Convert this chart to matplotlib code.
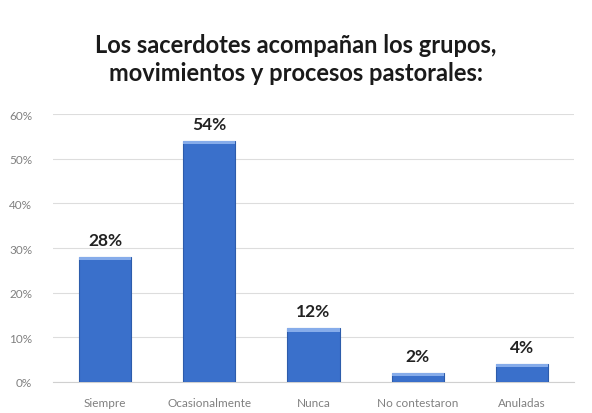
import numpy as np
import matplotlib.pyplot as plt
from matplotlib.ticker import PercentFormatter

categories = ["Siempre", "Ocasionalmente", "Nunca", "No contestaron", "Anuladas"]
values = [28, 54, 12, 2, 4]
yticks = [0, 10, 20, 30, 40, 50, 60]

plt.rcParams["font.family"] = ["Lato", "DejaVu Sans"]

fig = plt.figure(figsize=(5.92, 4.14), dpi=100)
ax = fig.add_axes([0.0895, 0.0749, 0.8801, 0.6471])

x = np.arange(len(categories))
bars = ax.bar(x, values, width=0.5, color="#3a70cb", edgecolor="#2d5cab",
              linewidth=0.8, zorder=3)

# lighter band on top of each bar, roughly like the bevel in the original
for b in bars:
    ax.bar(b.get_x() + b.get_width() / 2, 0.7, bottom=b.get_height() - 0.7,
           width=b.get_width(), color="#86acea", linewidth=0, zorder=4)

for xi, v in zip(x, values):
    ax.text(xi, v + 2.0, f"{v}%", ha="center", va="bottom",
            fontsize=12.5, fontweight="bold", color="#222222")

ax.set_xlim(-0.5, len(categories) - 0.5)
ax.set_ylim(0, 60)
ax.set_yticks(yticks)
ax.yaxis.set_major_formatter(PercentFormatter(decimals=0))
ax.set_xticks(x)
ax.set_xticklabels(categories)
ax.tick_params(axis="both", length=0, labelsize=8.5, labelcolor="#808080")
ax.tick_params(axis="x", pad=11)
ax.tick_params(axis="y", pad=15)
ax.grid(axis="y", color="#dddddd", linewidth=0.8, zorder=0)
for s in ["top", "right", "left"]:
    ax.spines[s].set_visible(False)
ax.spines["bottom"].set_color("#d0d0d0")

fig.text(0.5, 0.857, "Los sacerdotes acompañan los grupos,\nmovimientos y procesos pastorales:",
         ha="center", va="center", fontsize=17, fontweight="bold",
         color="#1a1a1a", linespacing=1.25)

fig.savefig("out.png", dpi=100)
